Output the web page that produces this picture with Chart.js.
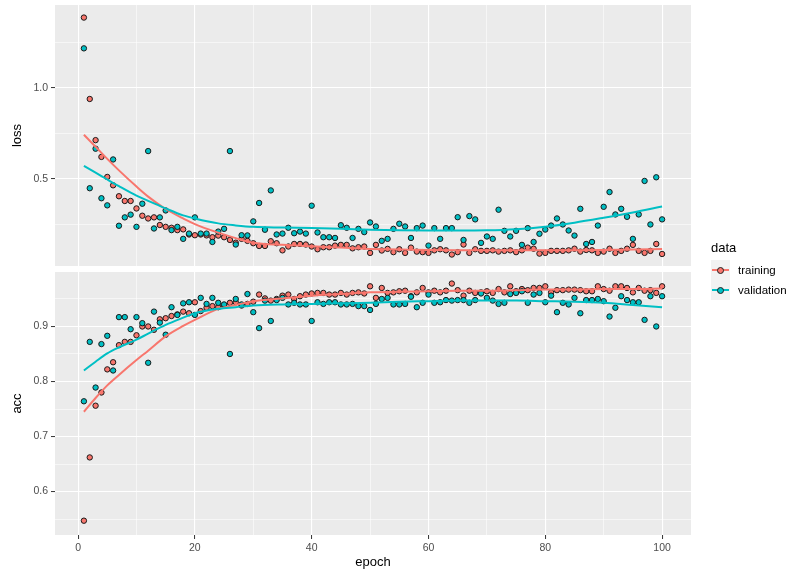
<!DOCTYPE html>
<html>
<head>
<meta charset="utf-8">
<script src="https://cdn.jsdelivr.net/npm/chart.js@4.4.0/dist/chart.umd.min.js"></script>
<style>
  body { margin: 0; background: #fff; width: 800px; height: 574px; position: relative; overflow: hidden;
         font-family: "Liberation Sans", Arial, sans-serif; }
  #lossWrap { position: absolute; left: 0; top: 0; width: 800px; height: 266px; }
  #accWrap { position: absolute; left: 0; top: 272px; width: 800px; height: 302px; }
  .legend { position: absolute; left: 711px; top: 239px; color: #000; }
  .legend .title { font-size: 13px; height: 20px; line-height: 18px; }
  .legend .row { position: relative; height: 20px; }
  .legend .key { position: absolute; left: 0; top: 1px; width: 19px; height: 20px; background: #F2F2F2; }
  .legend .key .ln { position: absolute; left: 1px; right: 1px; top: 9px; height: 2px; }
  .legend .key .dot { position: absolute; left: 6px; top: 7px; width: 5px; height: 5px; border-radius: 50%; border: 1px solid #222; }
  .legend .lbl { position: absolute; left: 27px; top: 3px; font-size: 11.5px; line-height: 16px; }
</style>
</head>
<body>
<div id="lossWrap"><canvas id="lossChart" width="800" height="266"></canvas></div>
<div id="accWrap"><canvas id="accChart" width="800" height="302"></canvas></div>
<div class="legend">
  <div class="title">data</div>
  <div class="row"><div class="key"><div class="ln" style="background:#F8766D"></div><div class="dot" style="background:#F8766D"></div></div><div class="lbl">training</div></div>
  <div class="row"><div class="key"><div class="ln" style="background:#00BFC4"></div><div class="dot" style="background:#00BFC4"></div></div><div class="lbl">validation</div></div>
</div>
<script>
// epochs 1..100
const epochs = Array.from({ length: 100 }, (_, i) => i + 1);

const trainLoss = [1.386, 0.939, 0.713, 0.621, 0.511, 0.465, 0.405, 0.379, 0.379, 0.338,
  0.298, 0.283, 0.289, 0.247, 0.237, 0.232, 0.219, 0.223, 0.195, 0.191,
  0.195, 0.190, 0.180, 0.189, 0.180, 0.165, 0.150, 0.171, 0.160, 0.147,
  0.132, 0.132, 0.158, 0.147, 0.108, 0.129, 0.143, 0.143, 0.140, 0.129,
  0.114, 0.125, 0.125, 0.134, 0.138, 0.138, 0.119, 0.125, 0.129, 0.094,
  0.138, 0.107, 0.116, 0.098, 0.114, 0.094, 0.123, 0.101, 0.098, 0.094,
  0.108, 0.114, 0.108, 0.085, 0.098, 0.140, 0.094, 0.114, 0.105, 0.105,
  0.108, 0.101, 0.105, 0.108, 0.098, 0.108, 0.123, 0.117, 0.090, 0.094,
  0.105, 0.105, 0.105, 0.108, 0.117, 0.101, 0.110, 0.108, 0.094, 0.101,
  0.117, 0.094, 0.105, 0.117, 0.138, 0.105, 0.094, 0.105, 0.143, 0.088];

const valLoss = [1.217, 0.449, 0.666, 0.394, 0.355, 0.607, 0.243, 0.289, 0.304, 0.237,
  0.364, 0.653, 0.228, 0.289, 0.327, 0.219, 0.237, 0.171, 0.200, 0.289,
  0.200, 0.200, 0.154, 0.211, 0.226, 0.653, 0.140, 0.191, 0.190, 0.267,
  0.368, 0.221, 0.437, 0.195, 0.200, 0.232, 0.202, 0.211, 0.200, 0.353,
  0.206, 0.180, 0.180, 0.176, 0.246, 0.232, 0.176, 0.226, 0.208, 0.261,
  0.239, 0.160, 0.171, 0.226, 0.254, 0.239, 0.176, 0.230, 0.244, 0.134,
  0.230, 0.171, 0.230, 0.230, 0.290, 0.165, 0.296, 0.278, 0.149, 0.184,
  0.171, 0.331, 0.215, 0.184, 0.215, 0.138, 0.230, 0.154, 0.199, 0.222,
  0.244, 0.283, 0.250, 0.217, 0.189, 0.336, 0.143, 0.154, 0.244, 0.347,
  0.428, 0.305, 0.336, 0.292, 0.171, 0.305, 0.489, 0.250, 0.509, 0.278];

const trainAcc = [0.547, 0.662, 0.756, 0.780, 0.822, 0.835, 0.866, 0.872, 0.872, 0.884,
  0.900, 0.900, 0.894, 0.913, 0.915, 0.919, 0.922, 0.927, 0.924, 0.944,
  0.928, 0.934, 0.937, 0.935, 0.938, 0.943, 0.944, 0.938, 0.941, 0.945,
  0.958, 0.951, 0.947, 0.950, 0.956, 0.958, 0.950, 0.955, 0.958, 0.960,
  0.961, 0.961, 0.958, 0.958, 0.961, 0.958, 0.961, 0.962, 0.960, 0.973,
  0.952, 0.970, 0.961, 0.962, 0.964, 0.965, 0.955, 0.962, 0.970, 0.962,
  0.965, 0.962, 0.965, 0.978, 0.966, 0.956, 0.965, 0.961, 0.962, 0.964,
  0.961, 0.968, 0.962, 0.973, 0.964, 0.968, 0.966, 0.970, 0.970, 0.973,
  0.962, 0.966, 0.966, 0.967, 0.967, 0.966, 0.964, 0.964, 0.973, 0.968,
  0.965, 0.973, 0.973, 0.970, 0.962, 0.970, 0.965, 0.966, 0.961, 0.973];

const valAcc = [0.764, 0.872, 0.789, 0.868, 0.883, 0.820, 0.917, 0.917, 0.895, 0.917,
  0.906, 0.834, 0.927, 0.907, 0.885, 0.935, 0.921, 0.942, 0.944, 0.921,
  0.952, 0.941, 0.952, 0.943, 0.940, 0.850, 0.950, 0.940, 0.959, 0.926,
  0.897, 0.947, 0.910, 0.948, 0.952, 0.940, 0.943, 0.940, 0.940, 0.910,
  0.944, 0.941, 0.944, 0.944, 0.940, 0.940, 0.941, 0.937, 0.937, 0.930,
  0.941, 0.950, 0.952, 0.940, 0.940, 0.941, 0.954, 0.935, 0.943, 0.958,
  0.943, 0.944, 0.948, 0.947, 0.948, 0.948, 0.943, 0.948, 0.960, 0.952,
  0.947, 0.941, 0.943, 0.959, 0.961, 0.964, 0.943, 0.958, 0.961, 0.944,
  0.956, 0.926, 0.943, 0.940, 0.952, 0.924, 0.948, 0.948, 0.950, 0.946,
  0.918, 0.934, 0.955, 0.948, 0.944, 0.944, 0.912, 0.955, 0.900, 0.955];

// loess curves at these epochs
const smoothEpochs = [1, 3, 5, 7, 10, 12, 15, 18, 20, 24, 27, 30, 35, 40, 45, 50, 55, 60, 65, 70, 75, 80, 85, 90, 95, 100];
const trainLossSmooth = [0.743, 0.677, 0.610, 0.547, 0.458, 0.403, 0.335, 0.283, 0.252, 0.205, 0.175, 0.150, 0.138, 0.130, 0.123, 0.116, 0.112, 0.110, 0.109, 0.109, 0.109, 0.109, 0.109, 0.110, 0.112, 0.115];
const valLossSmooth = [0.572, 0.535, 0.497, 0.460, 0.408, 0.380, 0.338, 0.300, 0.283, 0.256, 0.245, 0.237, 0.233, 0.230, 0.226, 0.221, 0.218, 0.217, 0.217, 0.218, 0.224, 0.238, 0.260, 0.287, 0.316, 0.349];
const trainAccSmooth = [0.745, 0.770, 0.793, 0.812, 0.839, 0.856, 0.882, 0.901, 0.912, 0.932, 0.939, 0.946, 0.951, 0.956, 0.959, 0.962, 0.963, 0.964, 0.965, 0.965, 0.966, 0.967, 0.967, 0.968, 0.968, 0.969];
const valAccSmooth = [0.820, 0.836, 0.851, 0.862, 0.876, 0.887, 0.903, 0.916, 0.924, 0.932, 0.935, 0.938, 0.940, 0.941, 0.942, 0.943, 0.945, 0.946, 0.947, 0.947, 0.947, 0.946, 0.945, 0.943, 0.939, 0.935];

// axis ticks (labelled ones); minor grid lines sit half way between
const xTicks = [0, 20, 40, 60, 80, 100];
const lossTicks = [0.5, 1.0];
const accTicks = [0.6, 0.7, 0.8, 0.9];

const RED = '#F8766D', TEAL = '#00BFC4';
const FONT = '"Liberation Sans", Arial, sans-serif';

function pts(xs, ys) { return xs.map((x, i) => ({ x: x, y: ys[i] })); }

function withMinors(major, step, lo, hi) {
  const all = [];
  for (let v = major[0] - step * 2; v <= hi + 1e-9; v += step) {
    const r = Math.round(v * 1000) / 1000;
    if (r > lo && r < hi) all.push(r);
  }
  return all;
}
function isMajor(list, v) { return list.some(m => Math.abs(m - v) < 1e-6); }

function noPad(s) {
  s.paddingTop = 0; s.paddingBottom = 0; s.paddingLeft = 0; s.paddingRight = 0;
}

const panelBg = {
  id: 'panelBg',
  beforeDraw(chart) {
    const { ctx, chartArea: a } = chart;
    ctx.save();
    ctx.fillStyle = '#EBEBEB';
    ctx.fillRect(a.left, a.top, a.right - a.left, a.bottom - a.top);
    ctx.restore();
  }
};

function gridOpts(majors) {
  return {
    color: '#FFFFFF',
    lineWidth: c => isMajor(majors, c.tick.value) ? 1.1 : 0.55,
    tickColor: c => isMajor(majors, c.tick.value) ? '#333333' : 'rgba(0,0,0,0)',
    tickLength: 4,
    tickWidth: 1
  };
}

function makePanel(id, cfg) {
  const xAll = withMinors(xTicks, 10, -3.95, 104.95);
  const yAll = withMinors(cfg.majors, cfg.minorStep, cfg.min, cfg.max);
  return new Chart(document.getElementById(id), {
    type: 'scatter',
    data: {
      datasets: [
        { data: pts(smoothEpochs, cfg.valSmooth), showLine: true, borderColor: TEAL, borderWidth: 2,
          pointRadius: 0, cubicInterpolationMode: 'monotone', order: 0 },
        { data: pts(smoothEpochs, cfg.trainSmooth), showLine: true, borderColor: RED, borderWidth: 2,
          pointRadius: 0, cubicInterpolationMode: 'monotone', order: 1 },
        { data: pts(epochs, cfg.val), backgroundColor: TEAL, borderColor: '#1a1a1a', borderWidth: 1,
          pointRadius: 2.7, order: 2 },
        { data: pts(epochs, cfg.train), backgroundColor: RED, borderColor: '#1a1a1a', borderWidth: 1,
          pointRadius: 2.7, order: 3 }
      ]
    },
    options: {
      responsive: false,
      animation: false,
      events: [],
      layout: { autoPadding: false, padding: { top: cfg.padTop, right: 109, left: 0, bottom: 0 } },
      plugins: { legend: { display: false }, tooltip: { enabled: false } },
      scales: {
        x: {
          type: 'linear', min: -3.95, max: 104.95,
          afterBuildTicks: s => { s.ticks = xAll.map(v => ({ value: v })); },
          afterFit: s => { s.height = cfg.showX ? 39 : 0; noPad(s); },
          grid: Object.assign(gridOpts(xTicks), { drawTicks: cfg.showX }),
          border: { display: false },
          ticks: {
            display: cfg.showX, autoSkip: false, maxRotation: 0, padding: 3,
            color: '#4D4D4D', font: { family: FONT, size: 10.5 },
            callback: v => isMajor(xTicks, v) ? String(v) : ''
          },
          title: {
            display: cfg.showX, text: 'epoch', color: '#000',
            font: { family: FONT, size: 13 }, padding: { top: 0, bottom: 4 }
          }
        },
        y: {
          type: 'linear', min: cfg.min, max: cfg.max,
          afterBuildTicks: s => { s.ticks = yAll.map(v => ({ value: v })); },
          afterFit: s => { s.width = 55; noPad(s); },
          grid: gridOpts(cfg.majors),
          border: { display: false },
          ticks: {
            autoSkip: false, padding: 3, color: '#4D4D4D', font: { family: FONT, size: 10.5 },
            callback: v => isMajor(cfg.majors, v) ? v.toFixed(1) : ''
          },
          title: {
            display: true, text: cfg.label, color: '#000',
            font: { family: FONT, size: 13 }, padding: { top: 10, bottom: 0 }
          }
        }
      }
    },
    plugins: [panelBg]
  });
}

makePanel('lossChart', {
  label: 'loss', train: trainLoss, val: valLoss,
  trainSmooth: trainLossSmooth, valSmooth: valLossSmooth,
  min: 0.022, max: 1.455, majors: lossTicks, minorStep: 0.25, padTop: 5, showX: false
});

makePanel('accChart', {
  label: 'acc', train: trainAcc, val: valAcc,
  trainSmooth: trainAccSmooth, valSmooth: valAccSmooth,
  min: 0.521, max: 0.999, majors: accTicks, minorStep: 0.05, padTop: 0, showX: true
});
</script>
</body>
</html>
